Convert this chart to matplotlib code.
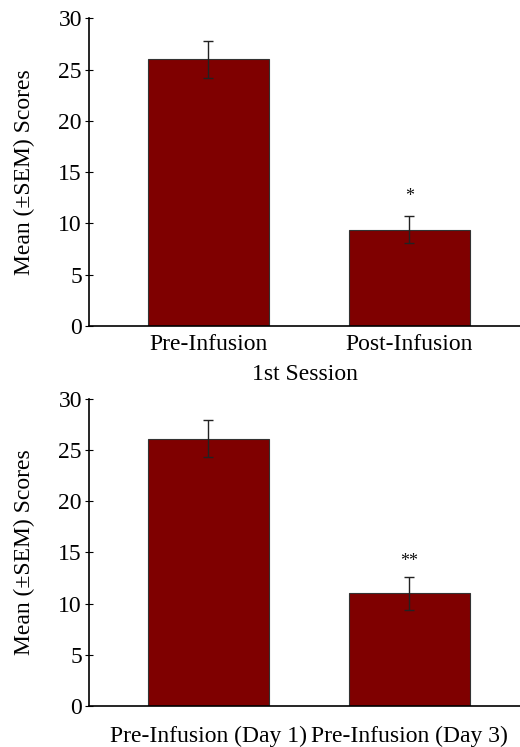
import matplotlib.pyplot as plt

plt.rcParams['font.family'] = ['Liberation Serif', 'DejaVu Serif']

# top panel: 1st session
labels_top = ['Pre-Infusion', 'Post-Infusion']
means_top = [26.0, 9.4]
sem_top = [1.8, 1.35]
sig_top = ['', '*']

# bottom panel: day 1 vs day 3
labels_bot = ['Pre-Infusion (Day 1)', 'Pre-Infusion (Day 3)']
means_bot = [26.1, 11.0]
sem_bot = [1.8, 1.65]
sig_bot = ['', '**']

BAR_COLOR = '#7f0000'
FS = 17

fig = plt.figure(figsize=(5.2, 7.47), dpi=100)
ax1 = fig.add_axes([0.171, 0.5636, 0.829, 0.412])
ax2 = fig.add_axes([0.171, 0.0549, 0.829, 0.411])


def draw(ax, labels, means, sems, sig, xlabel=None, xpad=6, star_gap=1.9):
    x = list(range(len(labels)))
    ax.bar(x, means, width=0.6, color=BAR_COLOR, edgecolor='#333333', linewidth=0.8)
    ax.errorbar(x, means, yerr=sems, fmt='none', ecolor='#222222',
                elinewidth=1.0, capsize=3.5, capthick=1.0)
    for xi, m, s, t in zip(x, means, sems, sig):
        if t:
            ax.text(xi, m + s + star_gap, t, ha='center', va='center',
                    fontsize=13, color='#111111')
    ax.set_xlim(-0.595, 1.55)
    ax.set_ylim(0, 30)
    ax.set_yticks(range(0, 31, 5))
    ax.set_xticks(x)
    ax.set_xticklabels(labels)
    ax.tick_params(axis='y', direction='inout', length=6, width=0.8, labelsize=FS, pad=2)
    ax.tick_params(axis='x', length=0, labelsize=FS, pad=xpad)
    for side in ['top', 'right']:
        ax.spines[side].set_visible(False)
    ax.spines['left'].set_linewidth(1.2)
    ax.spines['bottom'].set_linewidth(1.2)
    ax.set_ylabel('Mean (\u00b1SEM) Scores', fontsize=FS)
    ax.yaxis.set_label_coords(-0.125, 0.5)
    if xlabel:
        ax.set_xlabel(xlabel, fontsize=FS, labelpad=6.5)


draw(ax1, labels_top, means_top, sem_top, sig_top, xlabel='1st Session', xpad=6, star_gap=1.9)
draw(ax2, labels_bot, means_bot, sem_bot, sig_bot, xpad=14, star_gap=1.5)

fig.savefig('out.png', dpi=100)
